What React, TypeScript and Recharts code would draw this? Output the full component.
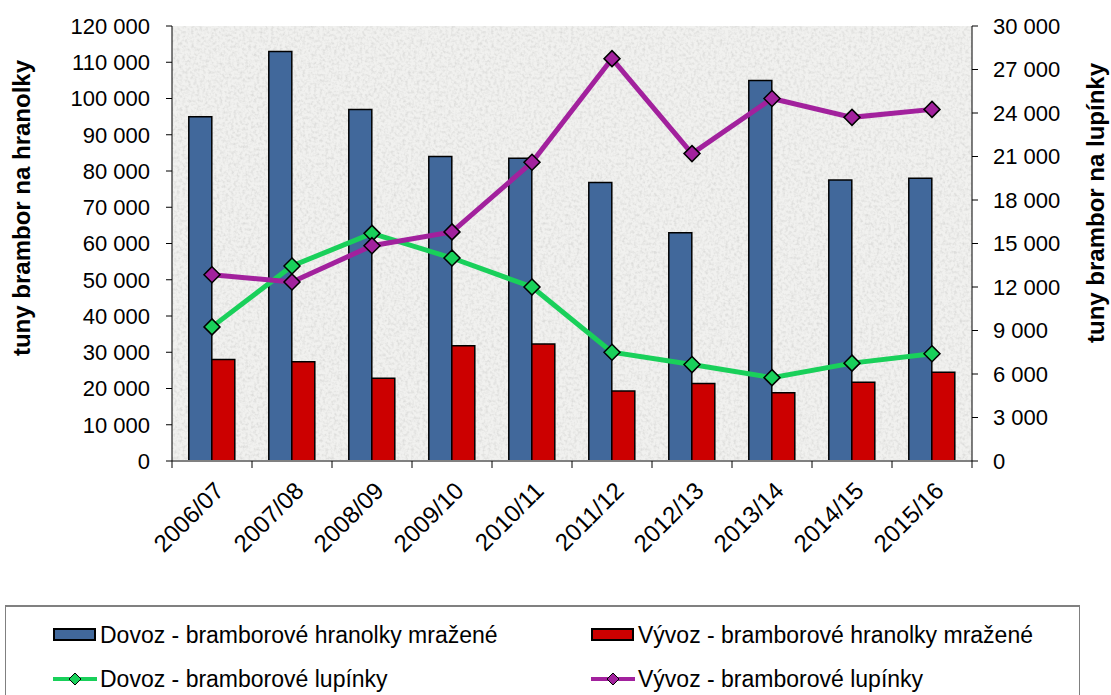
import { Bar, CartesianGrid, ComposedChart, Line, XAxis, YAxis } from "recharts";

const seasons = ["2006/07", "2007/08", "2008/09", "2009/10", "2010/11", "2011/12", "2012/13", "2013/14", "2014/15", "2015/16"];
const dovozHranolky = [95000, 113000, 97000, 84000, 83500, 76800, 63000, 105000, 77500, 78000];
const vyvozHranolky = [28000, 27400, 22800, 31800, 32300, 19300, 21400, 18800, 21700, 24500];
const dovozLupinky = [9250, 13450, 15700, 14000, 12000, 7500, 6650, 5750, 6750, 7400];
const vyvozLupinky = [12850, 12350, 14850, 15800, 20600, 27750, 21200, 25000, 23700, 24250];
const leftTicks = [0, 10000, 20000, 30000, 40000, 50000, 60000, 70000, 80000, 90000, 100000, 110000, 120000];
const rightTicks = [0, 3000, 6000, 9000, 12000, 15000, 18000, 21000, 24000, 27000, 30000];

const data = seasons.map((s, i) => ({
  season: s,
  dovozH: dovozHranolky[i],
  vyvozH: vyvozHranolky[i],
  dovozL: dovozLupinky[i],
  vyvozL: vyvozLupinky[i],
}));

const W = 1111;
const H = 695;
const PLOT_LEFT = 172;
const PLOT_RIGHT = 972;
const PLOT_TOP = 26;
const PLOT_BOTTOM = 461;
const HALF_BAND = (PLOT_RIGHT - PLOT_LEFT) / seasons.length / 2;
const FONT = "'Liberation Sans', Arial, sans-serif";

const BLUE = "#41689b";
const RED = "#cc0000";
const GREEN = "#19d05a";
const PURPLE = "#a2219d";

const fmt = (v: number) => String(v).replace(/\B(?=(\d{3})+(?!\d))/g, " ");

function Diamond(props: any) {
  const { cx, cy, fill } = props;
  if (cx == null || cy == null) return null;
  const r = 8;
  return (
    <polygon
      points={`${cx},${cy - r} ${cx + r},${cy} ${cx},${cy + r} ${cx - r},${cy}`}
      fill={fill}
      stroke="#000"
      strokeWidth={1.5}
    />
  );
}

function SeasonTick(props: any) {
  const { x, y, payload, index } = props;
  const tx = x + 1;
  const ty = y + 19;
  return (
    <g>
      <line x1={x - HALF_BAND} x2={x - HALF_BAND} y1={y} y2={y + 7} stroke="#000" />
      {index === seasons.length - 1 && (
        <line x1={x + HALF_BAND} x2={x + HALF_BAND} y1={y} y2={y + 7} stroke="#000" />
      )}
      <text
        x={tx}
        y={ty}
        dy="0.72em"
        textAnchor="end"
        transform={`rotate(-45, ${tx}, ${ty})`}
        fontSize={24}
        fontFamily={FONT}
        fill="#000"
      >
        {payload.value}
      </text>
    </g>
  );
}

function AxisTitle({ viewBox, text, side }: any) {
  const x = side === "left" ? viewBox.x + 30 : viewBox.x + viewBox.width - 7;
  const y = side === "left" ? 208 : 203;
  return (
    <text
      x={x}
      y={y}
      textAnchor="middle"
      transform={`rotate(-90, ${x}, ${y})`}
      fontSize={24}
      fontWeight="bold"
      fontFamily={FONT}
      fill="#000"
    >
      {text}
    </text>
  );
}

function LegendItem({ kind, color, label }: { kind: "bar" | "line"; color: string; label: string }) {
  return (
    <div style={{ display: "flex", alignItems: "center", height: 30 }}>
      <svg width={44} height={16} style={{ marginRight: 3 }}>
        {kind === "bar" ? (
          <rect x={1} y={2} width={41} height={11} fill={color} stroke="#000" strokeWidth={2} />
        ) : (
          <g>
            <line x1={0} x2={44} y1={8} y2={8} stroke={color} strokeWidth={4} />
            <polygon points="22,2 28,8 22,14 16,8" fill={color} stroke="#000" strokeWidth={1} />
          </g>
        )}
      </svg>
      <span>{label}</span>
    </div>
  );
}

export default function App() {
  return (
    <div style={{ position: "absolute", left: 0, top: 0, width: W, height: H, background: "#fff", overflow: "hidden" }}>
      <ComposedChart
        width={W}
        height={H}
        data={data}
        margin={{ top: PLOT_TOP, right: 0, bottom: 0, left: 0 }}
        barCategoryGap="21%"
        barGap={0}
      >
        <defs>
          <filter id="grain" x="0" y="0" width="100%" height="100%">
            <feFlood floodColor="#f1f1ef" result="base" />
            <feTurbulence type="fractalNoise" baseFrequency="0.35" numOctaves={2} seed={3} result="noise" />
            <feColorMatrix
              in="noise"
              type="matrix"
              values="0 0 0 0 0.55  0 0 0 0 0.55  0 0 0 0 0.54  1.1 0 0 0 -0.45"
              result="specks"
            />
            <feComposite in="specks" in2="base" operator="over" />
          </filter>
          <pattern id="texture" patternUnits="userSpaceOnUse" width={300} height={300}>
            <rect width={300} height={300} filter="url(#grain)" />
          </pattern>
        </defs>
        <CartesianGrid horizontal={false} vertical={false} fill="url(#texture)" fillOpacity={1} />
        <XAxis
          dataKey="season"
          xAxisId="x"
          height={H - PLOT_BOTTOM}
          tick={<SeasonTick />}
          tickLine={false}
          tickSize={0}
          tickMargin={0}
          interval={0}
          axisLine={{ stroke: "#808080", strokeWidth: 2 }}
        />
        <YAxis
          yAxisId="left"
          orientation="left"
          width={PLOT_LEFT}
          domain={[0, 120000]}
          ticks={leftTicks}
          interval={0}
          tickFormatter={fmt}
          tickSize={6}
          tickMargin={16}
          tick={{ fontSize: 22, fontFamily: FONT, fill: "#000" }}
          axisLine={{ stroke: "#000" }}
          tickLine={{ stroke: "#000" }}
          label={{ content: (p: any) => <AxisTitle {...p} side="left" text="tuny brambor na hranolky" /> }}
        />
        <YAxis
          yAxisId="right"
          orientation="right"
          width={W - PLOT_RIGHT}
          domain={[0, 30000]}
          ticks={rightTicks}
          interval={0}
          tickFormatter={fmt}
          tickSize={6}
          tickMargin={15}
          tick={{ fontSize: 22, fontFamily: FONT, fill: "#000" }}
          axisLine={{ stroke: "#000" }}
          tickLine={{ stroke: "#000" }}
          label={{ content: (p: any) => <AxisTitle {...p} side="right" text="tuny brambor na lupínky" /> }}
        />
        <Bar dataKey="dovozH" xAxisId="x" yAxisId="left" fill={BLUE} stroke="#000" strokeWidth={1.5} isAnimationActive={false} />
        <Bar dataKey="vyvozH" xAxisId="x" yAxisId="left" fill={RED} stroke="#000" strokeWidth={1.5} isAnimationActive={false} />
        <Line
          dataKey="dovozL"
          xAxisId="x"
          yAxisId="right"
          stroke={GREEN}
          strokeWidth={5}
          dot={<Diamond fill={GREEN} />}
          activeDot={false}
          isAnimationActive={false}
        />
        <Line
          dataKey="vyvozL"
          xAxisId="x"
          yAxisId="right"
          stroke={PURPLE}
          strokeWidth={5}
          dot={<Diamond fill={PURPLE} />}
          activeDot={false}
          isAnimationActive={false}
        />
      </ComposedChart>
      <div
        style={{
          position: "absolute",
          left: 5,
          top: 605,
          width: 1075,
          height: 120,
          border: "1px solid #808080",
          borderTopWidth: 2,
          boxSizing: "border-box",
          fontFamily: FONT,
          fontSize: 23,
          color: "#000",
        }}
      >
        <div style={{ position: "absolute", left: 47, top: 13 }}>
          <LegendItem kind="bar" color={BLUE} label="Dovoz - bramborové hranolky mražené" />
        </div>
        <div style={{ position: "absolute", left: 585, top: 13 }}>
          <LegendItem kind="bar" color={RED} label="Vývoz - bramborové hranolky mražené" />
        </div>
        <div style={{ position: "absolute", left: 47, top: 57 }}>
          <LegendItem kind="line" color={GREEN} label="Dovoz - bramborové lupínky" />
        </div>
        <div style={{ position: "absolute", left: 585, top: 57 }}>
          <LegendItem kind="line" color={PURPLE} label="Vývoz - bramborové lupínky" />
        </div>
      </div>
    </div>
  );
}
